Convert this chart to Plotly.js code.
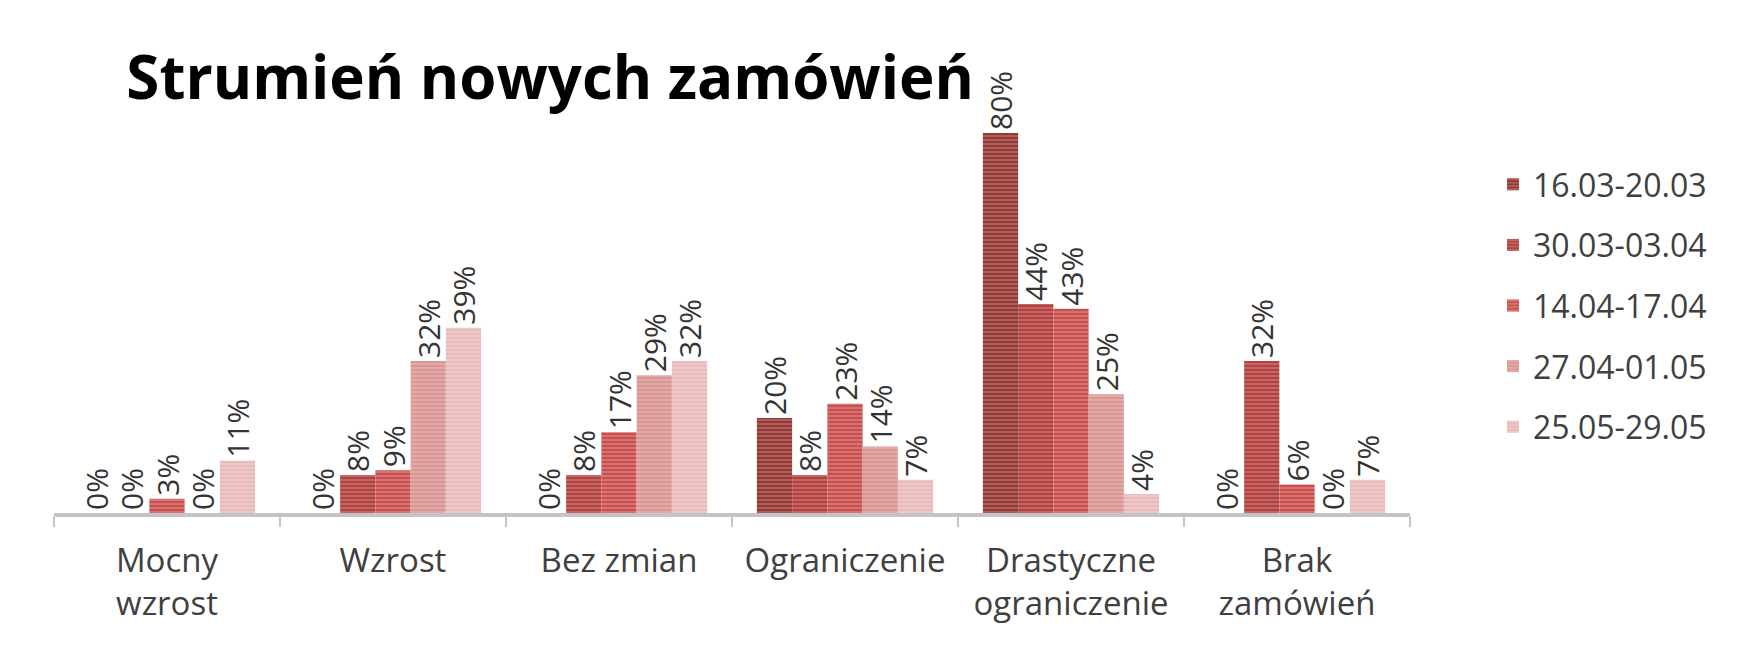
<!DOCTYPE html>
<html>
<head>
<meta charset="utf-8">
<script src="https://cdn.plot.ly/plotly-3.0.1.min.js"></script>
<style>html,body{margin:0;padding:0;background:#fff}#chart{width:1752px;height:648px}</style>
</head>
<body>
<div id="chart"></div>
<script>
const categories = ["Mocny<br>wzrost", "Wzrost", "Bez zmian", "Ograniczenie", "Drastyczne<br>ograniczenie", "Brak<br>zamówień"];
const seriesNames = ["16.03-20.03", "30.03-03.04", "14.04-17.04", "27.04-01.05", "25.05-29.05"];
const s1 = [0, 0, 0, 20, 80, 0];
const s2 = [0, 8, 8, 8, 44, 32];
const s3 = [3, 9, 17, 23, 43, 6];
const s4 = [0, 32, 29, 14, 25, 0];
const s5 = [11, 39, 32, 7, 4, 7];
const seriesValues = [s1, s2, s3, s4, s5];
const colors = ["#953735", "#b3413f", "#c9504e", "#d99694", "#e8baba"];

const FONT = "Open Sans, Noto Sans, sans-serif";
const traces = seriesValues.map((vals, i) => ({
  type: "bar",
  name: seriesNames[i],
  legendgroup: "g" + i,
  x: categories,
  y: vals,
  texttemplate: "%{y}%",
  textposition: "outside",
  textangle: -90,
  constraintext: "none",
  cliponaxis: false,
  textfont: {family: FONT, size: 30, color: "#333333"},
  marker: {
    color: colors[i],
    line: {width: 0},
    pattern: {shape: "-", size: 4, solidity: 0.22, fgcolor: "#ffffff", fgopacity: 0.45, bgcolor: colors[i], fillmode: "replace"}
  },
  hoverinfo: "x+y+name"
}));

const layout = {
  width: 1752, height: 648,
  paper_bgcolor: "#ffffff", plot_bgcolor: "#ffffff",
  margin: {l: 54, r: 342, t: 38, b: 135, pad: 0},
  barmode: "group",
  bargap: 0.22,
  bargroupgap: 0,
  title: {
    text: "Strumień nowych zamówień",
    font: {family: FONT, size: 60, color: "#000000", weight: 700},
    xref: "container", x: 0.314, xanchor: "center",
    yref: "container", y: 0.880, yanchor: "middle"
  },
  xaxis: {
    type: "category",
    showline: true, linecolor: "#c4c4c4", linewidth: 4,
    ticks: "outside", tickson: "boundaries", ticklen: 10, tickcolor: "#c4c4c4", tickwidth: 2,
    ticklabelstandoff: 15,
    tickfont: {family: FONT, size: 33, color: "#404040"},
    showgrid: false, zeroline: false
  },
  yaxis: {
    range: [0, 100], visible: false, showgrid: false, zeroline: false, fixedrange: true
  },
  showlegend: true,
  legend: {
    xref: "container", yref: "container",
    x: 1493 / 1752, xanchor: "left",
    y: 1 - 157 / 648, yanchor: "top",
    font: {family: FONT, size: 32, color: "#404040"},
    tracegroupgap: 16,
    traceorder: "grouped",
    maxheight: 640,
    bgcolor: "rgba(0,0,0,0)"
  }
};

Plotly.newPlot("chart", traces, layout, {displayModeBar: false, staticPlot: true});
</script>
</body>
</html>
